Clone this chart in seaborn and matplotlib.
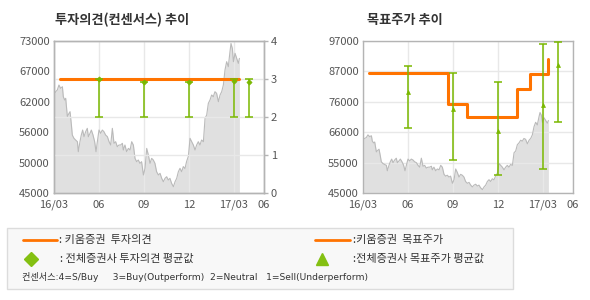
import numpy as np
import matplotlib
matplotlib.use("Agg")
import matplotlib.pyplot as plt
from matplotlib.lines import Line2D
from matplotlib.patches import Rectangle
import seaborn as sns

# ---------------- data ----------------
# months since 2016-03 (x axis), daily close
price_month = [0.00, 0.11, 0.22, 0.33, 0.44, 0.56, 0.62, 0.71, 0.78, 0.89, 1.00, 1.07,
               1.16, 1.22, 1.33, 1.44, 1.56, 1.62, 1.73, 1.82, 1.91, 2.00, 2.11, 2.22,
               2.29, 2.40, 2.49, 2.60, 2.71, 2.80, 2.89, 3.00, 3.11, 3.22, 3.33, 3.44,
               3.56, 3.67, 3.78, 3.89, 4.00, 4.11, 4.22, 4.33, 4.44, 4.56, 4.62, 4.73,
               4.84, 4.96, 5.07, 5.18, 5.29, 5.40, 5.51, 5.62, 5.73, 5.84, 5.96, 6.07,
               6.18, 6.29, 6.40, 6.51, 6.62, 6.73, 6.84, 6.96, 7.07, 7.18, 7.29, 7.40,
               7.51, 7.62, 7.73, 7.84, 7.96, 8.07, 8.18, 8.29, 8.40, 8.51, 8.62, 8.73,
               8.84, 8.96, 9.07, 9.18, 9.29, 9.40, 9.51, 9.62, 9.73, 9.84, 9.96, 10.07,
               10.18, 10.29, 10.40, 10.51, 10.62, 10.73, 10.84, 10.96, 11.07, 11.18, 11.29,
               11.40, 11.51, 11.62, 11.73, 11.80, 11.89, 11.96, 12.07, 12.18, 12.29, 12.36]
price = [63180, 63660, 63970, 64890, 64280, 64580, 62740, 62130, 62440, 59060, 59680, 59980,
         57530, 55680, 55070, 54760, 54450, 52610, 54450, 55680, 56600, 55370, 56290, 56910,
         55370, 55990, 56600, 55680, 54450, 52610, 54450, 56600, 55990, 56600, 56290, 55680,
         55370, 54450, 53840, 56910, 54150, 54450, 53530, 53840, 53840, 54150, 52920, 53840,
         52610, 53220, 52920, 54450, 53840, 51380, 50770, 51080, 50460, 50770, 48320, 49550,
         53220, 52000, 50460, 51380, 51080, 50460, 48920, 48320, 48620, 47700, 47080, 47700,
         48000, 47390, 47700, 46780, 46160, 47080, 47700, 48920, 49550, 48920, 49860, 49500,
         50800, 51800, 55070, 54450, 53840, 52920, 53840, 54450, 53840, 54760, 54450, 58770,
         59370, 61530, 62130, 63050, 62740, 63660, 63360, 61820, 63050, 63660, 64890,
         67660, 69190, 68270, 70980, 72540, 71620, 69190, 70730, 69800, 68880, 69800]

x_tick_pos = [0, 3, 6, 9, 12, 14]
x_tick_labels = ["16/03", "06", "09", "12", "17/03", "06"]
left_price_tick_labels = ["45000", "50000", "56000", "62000", "67000", "73000"]
opinion_ticks = [0, 1, 2, 3, 4]
target_tick_labels = ["45000", "55000", "66000", "76000", "87000", "97000"]

kiwoom_opinion_month = [0.4, 12.33]
kiwoom_opinion = [3, 3]

consensus_month = [3, 6, 9, 12, 13]
opinion_hi = [3.0, 2.93, 2.93, 3.0, 3.0]
opinion_lo = [2.0, 2.0, 2.0, 2.0, 2.0]
opinion_avg = [3.0, 2.93, 2.93, 2.96, 2.93]

kiwoom_target_month = [0.4, 5.65, 6.93, 10.27, 11.16, 12.36]
kiwoom_target = [86000, 75500, 71000, 80500, 85800, 91000]

target_hi = [88500, 86000, 83000, 95900, 96800]
target_lo = [67100, 56200, 51000, 53100, 69200]
target_avg = [79700, 73800, 66300, 75100, 88900]

# ---------------- style ----------------
sns.set_style("white")
plt.rcParams["font.family"] = ["Noto Sans CJK KR", "DejaVu Sans"]

ORANGE = "#ff7300"
GREEN = "#7ab800"
FILL = "#e0e0e0"
PLINE = "#bababa"
GRID = "#e8e8e8"
SPINE = "#b4b4b4"
TICKC = "#555555"

W, H = 590, 300
fig = plt.figure(figsize=(W / 100, H / 100), dpi=100)
fig.patch.set_facecolor("white")


def style_axes(a):
    for s in a.spines.values():
        s.set_color(SPINE)
        s.set_linewidth(1)
    a.set_xlim(0, 14)
    a.set_xticks(x_tick_pos)
    a.set_xticklabels(x_tick_labels)
    a.tick_params(axis="x", length=3, width=1, color=SPINE, pad=2,
                  labelsize=8, labelcolor=TICKC)
    a.tick_params(axis="y", length=0, pad=3, labelsize=8, labelcolor=TICKC)
    a.set_xlabel("")
    a.set_ylabel("")


# ---------------- left chart ----------------
axL = fig.add_axes([54 / W, 107 / H, 210 / W, 152 / H])
axL.fill_between(price_month, price, 45000, color=FILL, lw=0, zorder=1)
sns.lineplot(x=price_month, y=price, ax=axL, color=PLINE, lw=0.8,
             estimator=None, zorder=2)
axL.set_ylim(45000, 73000)
axL.set_yticks(np.linspace(45000, 73000, 6))
axL.set_yticklabels(left_price_tick_labels)
style_axes(axL)
axL.set_axisbelow("line")
axL.grid(axis="x", color=GRID, lw=1)

axR = axL.twinx()
axR.set_ylim(0, 4)
axR.set_yticks(opinion_ticks)
axR.set_yticklabels([str(v) for v in opinion_ticks])
for s in axR.spines.values():
    s.set_color(SPINE)
    s.set_linewidth(1)
axR.tick_params(axis="y", length=3, width=1, color=SPINE, pad=2,
                labelsize=8, labelcolor=TICKC)
axR.grid(axis="y", color=GRID, lw=1)
axR.set_axisbelow(True)
sns.lineplot(x=kiwoom_opinion_month, y=kiwoom_opinion, ax=axR, color=ORANGE,
             lw=2.2, estimator=None, zorder=3)
avg = np.array(opinion_avg)
axR.errorbar(consensus_month, opinion_avg,
             yerr=[avg - np.array(opinion_lo), np.array(opinion_hi) - avg],
             fmt="none", ecolor=GREEN, elinewidth=1.1, capsize=3.2,
             capthick=1.1, zorder=4)
sns.scatterplot(x=consensus_month, y=opinion_avg, ax=axR, marker="D", s=7,
                color=GREEN, edgecolor=GREEN, linewidth=0.5, zorder=5)
axR.set_ylabel("")

# ---------------- right chart ----------------
axT = fig.add_axes([363 / W, 107 / H, 210 / W, 152 / H])
axT.fill_between(price_month, price, 45000, color=FILL, lw=0, zorder=1)
sns.lineplot(x=price_month, y=price, ax=axT, color=PLINE, lw=0.8,
             estimator=None, zorder=2)
axT.set_ylim(45000, 97000)
axT.set_yticks(np.linspace(45000, 97000, 6))
axT.set_yticklabels(target_tick_labels)
style_axes(axT)
axT.set_axisbelow("line")
axT.grid(axis="both", color=GRID, lw=1)
sns.lineplot(x=kiwoom_target_month, y=kiwoom_target, ax=axT, color=ORANGE,
             lw=2.2, estimator=None, drawstyle="steps-post", zorder=3)
tavg = np.array(target_avg)
axT.errorbar(consensus_month, target_avg,
             yerr=[tavg - np.array(target_lo), np.array(target_hi) - tavg],
             fmt="none", ecolor=GREEN, elinewidth=1.1, capsize=3.2,
             capthick=1.1, zorder=4)
sns.scatterplot(x=consensus_month, y=target_avg, ax=axT, marker="^", s=8,
                color=GREEN, edgecolor=GREEN, linewidth=0.5, zorder=5)
axT.set_ylabel("")

# ---------------- titles ----------------
fig.text(55 / W, 1 - 20 / H, "투자의견(컨센서스) 추이", fontsize=9.5,
         fontweight="bold", color="#333333", va="center", ha="left")
fig.text(367 / W, 1 - 20 / H, "목표주가 추이", fontsize=9.5,
         fontweight="bold", color="#333333", va="center", ha="left")

# ---------------- legend box ----------------
fig.add_artist(Rectangle((7 / W, 1 - 289 / H), 506 / W, 61 / H,
                         transform=fig.transFigure, facecolor="#f8f8f8",
                         edgecolor="#dcdcdc", lw=1))


def fy(y):
    return 1 - y / H


fig.add_artist(Line2D([23 / W, 57 / W], [fy(240), fy(240)], color=ORANGE,
                      lw=2, transform=fig.transFigure))
fig.add_artist(Line2D([315 / W, 350 / W], [fy(240), fy(240)], color=ORANGE,
                      lw=2, transform=fig.transFigure))
fig.add_artist(Line2D([31 / W], [fy(259)], marker="D", markersize=7,
                      color="#84c012", lw=0, transform=fig.transFigure))
fig.add_artist(Line2D([322 / W], [fy(259)], marker="^", markersize=8,
                      color="#84c012", lw=0, transform=fig.transFigure))
LEG = dict(fontsize=8, color="#333333", va="center", ha="left")
fig.text(59 / W, fy(240), ": 키움증권  투자의견", **LEG)
fig.text(353 / W, fy(240), ":키움증권  목표주가", **LEG)
fig.text(60 / W, fy(259), ": 전체증권사 투자의견 평균값", **LEG)
fig.text(353 / W, fy(259), ":전체증권사 목표주가 평균값", **LEG)
fig.text(22 / W, fy(277),
         "컨센서스:4=S/Buy     3=Buy(Outperform)  2=Neutral   1=Sell(Underperform)",
         fontsize=6.6, family=["DejaVu Sans", "Noto Sans CJK KR"],
         color="#333333", va="center", ha="left")

fig.savefig("out.png", dpi=100, facecolor="white")
